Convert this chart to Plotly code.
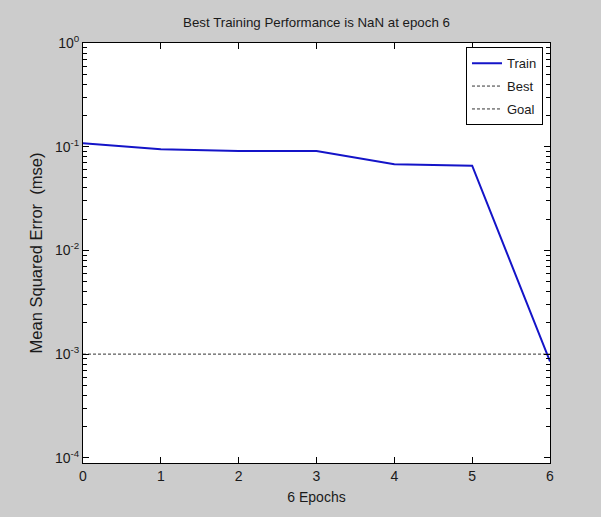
import plotly.graph_objects as go

epochs = [0, 1, 2, 3, 4, 5, 6]
train_mse = [0.108, 0.0945, 0.091, 0.091, 0.0677, 0.0656, 0.00085]
goal_x = [0, 6]
goal_y = [0.001, 0.001]
best_x = [None]
best_y = [None]
x_ticks = [0, 1, 2, 3, 4, 5, 6]
y_tickvals = [1e-4, 1e-3, 1e-2, 1e-1, 1e0]
y_ticktext = ["10<sup>-4</sup>", "10<sup>-3</sup>", "10<sup>-2</sup>", "10<sup>-1</sup>", "10<sup>0</sup>"]
minor_mult = [2, 3, 4, 5, 6, 7, 8, 9]
decades = [1e-4, 1e-3, 1e-2, 1e-1]
y_minor = [m * d for d in decades for m in minor_mult]

FONT = "Liberation Sans, Arial, sans-serif"
TXT = "#1a1a1a"
YRANGE = [-4.05, 0]

fig = go.Figure()
fig.add_trace(go.Scatter(x=epochs, y=train_mse, mode="lines", name="Train", legendgroup="a",
                         line=dict(color="rgb(20,20,200)", width=2)))
fig.add_trace(go.Scatter(x=best_x, y=best_y, mode="lines", name="Best", legendgroup="b",
                         line=dict(color="#333333", width=1, dash="3px,2px")))
fig.add_trace(go.Scatter(x=goal_x, y=goal_y, mode="lines", name="Goal", legendgroup="c",
                         line=dict(color="#333333", width=1, dash="3px,2px")))
# invisible carrier for the minor-tick overlay axis
fig.add_trace(go.Scatter(x=goal_x, y=goal_y, mode="lines", yaxis="y2", showlegend=False,
                         hoverinfo="skip", line=dict(width=1, color="rgba(0,0,0,0)")))

fig.update_layout(
    width=601, height=517,
    paper_bgcolor="#cccccc",
    plot_bgcolor="white",
    margin=dict(l=83, r=51, t=43, b=54),
    font=dict(family=FONT, size=13, color=TXT),
    title=dict(text="Best Training Performance is NaN at epoch 6",
               x=316.5 / 601, xanchor="center",
               y=1 - 22 / 517, yanchor="middle",
               font=dict(family=FONT, size=13.3, color=TXT)),
    showlegend=True,
    legend=dict(x=0.985, y=0.99, xanchor="right", yanchor="top",
                bgcolor="white", bordercolor="black", borderwidth=1,
                font=dict(family=FONT, size=13, color=TXT),
                tracegroupgap=3, itemwidth=30),
    xaxis=dict(range=[0, 6], tickvals=x_ticks, ticks="inside", ticklen=6,
               tickcolor="black", showline=True, linecolor="black", linewidth=1,
               mirror="ticks", showgrid=False, zeroline=False,
               title=dict(text="6 Epochs", standoff=9, font=dict(family=FONT, size=14, color=TXT)),
               tickfont=dict(family=FONT, size=14, color=TXT)),
    yaxis=dict(type="log", range=YRANGE, tickvals=y_tickvals, ticktext=y_ticktext,
               ticks="inside", ticklen=6, tickcolor="black",
               showline=True, linecolor="black", linewidth=1, mirror="ticks",
               showgrid=False, zeroline=False,
               title=dict(text="Mean Squared Error  (mse)", standoff=8,
                          font=dict(family=FONT, size=16.5, color=TXT)),
               tickfont=dict(family=FONT, size=14, color=TXT)),
    yaxis2=dict(type="log", range=YRANGE, overlaying="y", side="left", anchor="x",
                tickmode="array", tickvals=y_minor, ticktext=[""] * len(y_minor),
                showticklabels=False, ticks="inside", ticklen=4, tickwidth=1,
                tickcolor="black", mirror="ticks", showline=True, linecolor="black",
                showgrid=False, zeroline=False),
)

fig.write_html("out.html")
